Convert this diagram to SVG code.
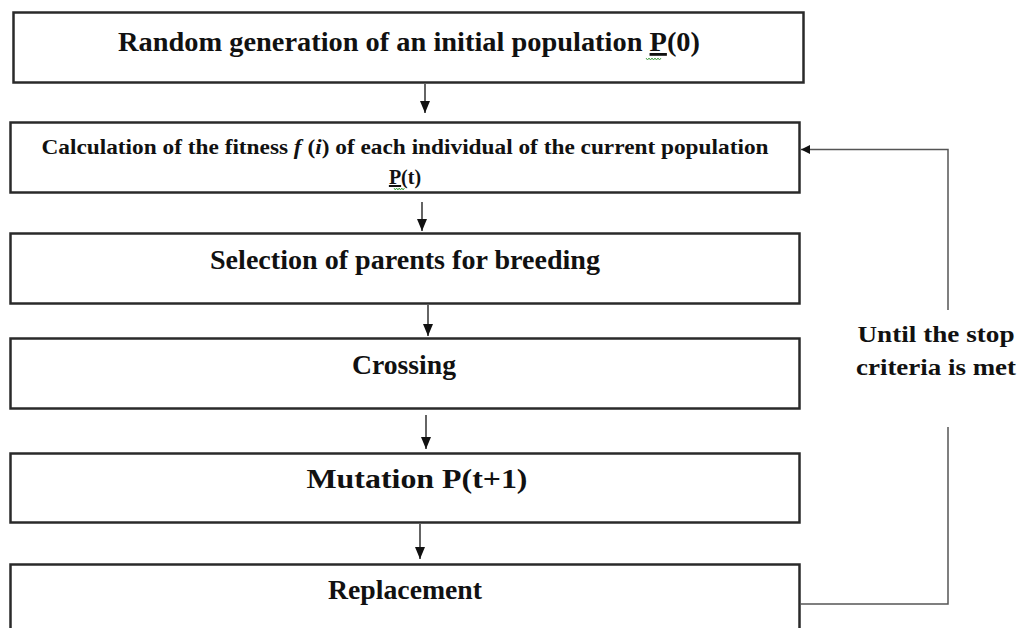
<svg xmlns="http://www.w3.org/2000/svg" width="1023" height="628" viewBox="0 0 1023 628">
  <style>
    .box { fill: #ffffff; stroke: #2a2a2a; stroke-width: 2.5; }
    .lbl { font-family: "Liberation Serif", "Times New Roman", serif; font-weight: bold; fill: #111111; text-anchor: middle; }
    .flow { stroke: #111111; stroke-width: 1.3; fill: none; }
    .loop { stroke: #555555; stroke-width: 1.5; fill: none; }
    .squiggle { stroke: #3a9a3a; stroke-width: 0.9; fill: none; }
  </style>
  <defs>
    <marker id="arrow" viewBox="0 0 10 10" refX="10" refY="5" markerWidth="10" markerHeight="9" markerUnits="userSpaceOnUse" orient="auto">
      <path d="M0,0 L10,5 L0,10 z" fill="#111111"/>
    </marker>
    <marker id="arrowTall" viewBox="0 0 12 10" refX="12" refY="5" markerWidth="12" markerHeight="10" markerUnits="userSpaceOnUse" orient="auto">
      <path d="M0,0 L12,5 L0,10 z" fill="#111111"/>
    </marker>
  </defs>

  <rect width="1023" height="628" fill="#ffffff"/>

  <g id="node-init">
    <rect class="box" x="13.5" y="12.5" width="790" height="70"/>
    <text class="lbl" x="409" y="51" font-size="28" textLength="582" lengthAdjust="spacingAndGlyphs">Random generation of an initial population <tspan text-decoration="underline">P</tspan>(0)</text>
    <path class="squiggle" d="M646,58 l1.5,2 l1.5,-2 l1.5,2 l1.5,-2 l1.5,2 l1.5,-2 l1.5,2 l1.5,-2 l1.5,2 l1.5,-2"/>
  </g>

  <g id="node-fitness">
    <rect class="box" x="10.5" y="122.5" width="789" height="70"/>
    <text class="lbl" x="405" y="154" font-size="20" textLength="727" lengthAdjust="spacingAndGlyphs">Calculation of the fitness <tspan font-style="italic">f</tspan> (<tspan font-style="italic">i</tspan>) of each individual of the current population</text>
    <text class="lbl" x="405" y="184" font-size="20"><tspan text-decoration="underline">P</tspan>(t)</text>
    <path class="squiggle" d="M394,188 l1.3,2 l1.3,-2 l1.3,2 l1.3,-2 l1.3,2 l1.3,-2 l1.3,2 l1.3,-2"/>
  </g>

  <g id="node-selection">
    <rect class="box" x="10.5" y="233.5" width="789" height="70"/>
    <text class="lbl" x="405" y="269" font-size="27" textLength="390" lengthAdjust="spacingAndGlyphs">Selection of parents for breeding</text>
  </g>

  <g id="node-crossing">
    <rect class="box" x="10.5" y="338.5" width="789" height="70"/>
    <text class="lbl" x="404" y="374" font-size="27" textLength="104" lengthAdjust="spacingAndGlyphs">Crossing</text>
  </g>

  <g id="node-mutation">
    <rect class="box" x="10.5" y="453.5" width="789" height="69"/>
    <text class="lbl" x="417" y="488" font-size="27" textLength="221" lengthAdjust="spacingAndGlyphs">Mutation P(t+1)</text>
  </g>

  <g id="node-replacement">
    <path class="box" d="M10.5,640 V564.5 H799.5 V640"/>
    <text class="lbl" x="405" y="599" font-size="27" textLength="154" lengthAdjust="spacingAndGlyphs">Replacement</text>
  </g>

  <g id="loop-label">
    <text class="lbl" x="936" y="342" font-size="23" fill="#0d0d2a" textLength="157" lengthAdjust="spacingAndGlyphs">Until the stop</text>
    <text class="lbl" x="936" y="375" font-size="23" fill="#0d0d2a" textLength="160" lengthAdjust="spacingAndGlyphs">criteria is met</text>
  </g>

  <g id="connectors">
    <line class="flow" x1="425" y1="84" x2="425" y2="113" marker-end="url(#arrowTall)"/>
    <line class="flow" x1="422" y1="202" x2="422" y2="231" marker-end="url(#arrowTall)"/>
    <line class="flow" x1="428" y1="305" x2="428" y2="336" marker-end="url(#arrowTall)"/>
    <line class="flow" x1="426" y1="415" x2="426" y2="449" marker-end="url(#arrowTall)"/>
    <line class="flow" x1="420" y1="524" x2="420" y2="559" marker-end="url(#arrowTall)"/>
    <polyline class="loop" points="800,604 948,604 948,427"/>
    <polyline class="loop" points="948,310 948,149.5 801,149.5" marker-end="url(#arrow)"/>
  </g>
</svg>
